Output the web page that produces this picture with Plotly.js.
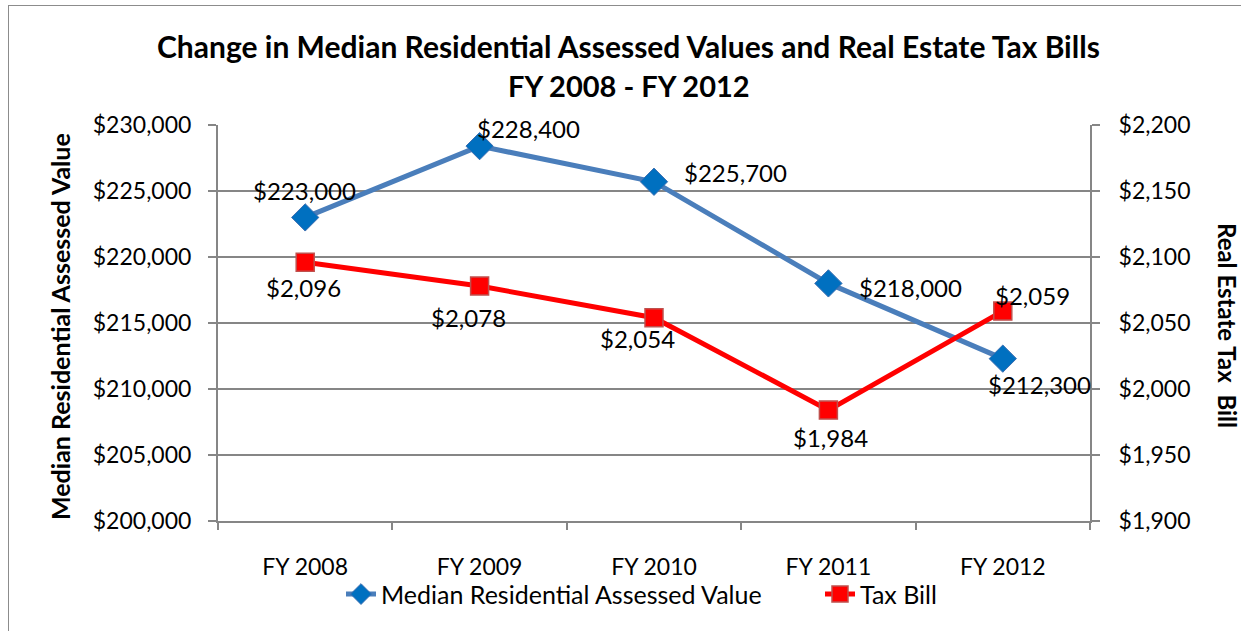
<!DOCTYPE html>
<html><head><meta charset="utf-8">
<script src="https://cdn.plot.ly/plotly-3.0.1.min.js"></script>
<style>
html,body{margin:0;padding:0;background:#fff;}
#wrap{position:relative;width:1241px;height:631px;}
#frame{position:absolute;left:8px;top:5px;width:1240px;height:630px;border:1px solid #8c8c8c;pointer-events:none;box-sizing:border-box;}
</style>
</head><body>
<div id="wrap"><div id="chart" style="width:1241px;height:631px;"></div><div id="frame"></div></div>
<script>
const categories = ["FY 2008","FY 2009","FY 2010","FY 2011","FY 2012"];
const assessedValues = [223000, 228400, 225700, 218000, 212300];
const taxBills = [2096, 2078, 2054, 1984, 2059];
const leftTicks = [200000,205000,210000,215000,220000,225000,230000];
const rightTicks = [1900,1950,2000,2050,2100,2150,2200];

const FONT = "Lato, 'Open Sans', sans-serif";
const fmt = v => "$" + v.toLocaleString("en-US");

// label placement offsets (pixels) relative to each point
const blueLabelShift = [[-1,-27],[49,-18],[81,-9],[82,4],[37,26]];
const redLabelShift  = [[-2,25],[-11,31],[-17,21],[2,27],[30,-16]];

const traces = [
  {
    x: categories, y: assessedValues, name: "Median Residential Assessed Value",
    type: "scatter", mode: "lines+markers",
    line: {color: "#4A7EBB", width: 5},
    marker: {symbol: "diamond", size: 21, color: "#0070C0", line: {color: "#3A6DB0", width: 1}},
    cliponaxis: false, yaxis: "y", legend: "legend"
  },
  {
    x: categories, y: taxBills, name: "Tax Bill",
    type: "scatter", mode: "lines+markers",
    line: {color: "#FF0000", width: 5},
    marker: {symbol: "square", size: 18, color: "#FF0000", line: {color: "#C0504D", width: 1.5}},
    cliponaxis: false, yaxis: "y2", legend: "legend2"
  }
];

const labelAnns = [];
categories.forEach((c, i) => {
  labelAnns.push({x: c, y: assessedValues[i], xref: "x", yref: "y", text: fmt(assessedValues[i]),
    showarrow: false, xanchor: "center", yanchor: "middle",
    xshift: blueLabelShift[i][0], yshift: -blueLabelShift[i][1],
    font: {family: FONT, size: 24, color: "#000"}});
  labelAnns.push({x: c, y: taxBills[i], xref: "x", yref: "y2", text: fmt(taxBills[i]),
    showarrow: false, xanchor: "center", yanchor: "middle",
    xshift: redLabelShift[i][0], yshift: -redLabelShift[i][1],
    font: {family: FONT, size: 24, color: "#000"}});
});

const legendFont = {family: FONT, size: 25, color: "#000"};
const layout = {
  width: 1241, height: 631,
  margin: {l: 218, r: 151, t: 125, b: 110, autoexpand: false},
  paper_bgcolor: "#fff", plot_bgcolor: "#fff",
  font: {family: FONT, size: 20, color: "#000"},
  showlegend: true,
  legend: {orientation: "h", xref: "container", x: 341/1241, xanchor: "left", y: -0.127, yanchor: "top",
           font: legendFont, bgcolor: "rgba(0,0,0,0)"},
  legend2: {orientation: "h", xref: "container", x: 820/1241, xanchor: "left", y: -0.127, yanchor: "top",
            font: legendFont, bgcolor: "rgba(0,0,0,0)"},
  xaxis: {
    type: "category", range: [-0.5, 4.5], showgrid: false,
    showline: true, linecolor: "#868686", linewidth: 2,
    ticks: "outside", tickson: "boundaries", ticklen: 7, tickcolor: "#868686", tickwidth: 2,
    ticklabelstandoff: 24, tickfont: {family: FONT, size: 23, color: "#000"}
  },
  yaxis: {
    range: [200000, 230000], tickvals: leftTicks, ticktext: leftTicks.map(fmt),
    showgrid: true, gridcolor: "#868686", gridwidth: 2,
    showline: true, linecolor: "#868686", linewidth: 2,
    ticks: "outside", ticklen: 8, tickcolor: "#868686", tickwidth: 2,
    ticklabelstandoff: 12, tickfont: {family: FONT, size: 23, color: "#000"}, zeroline: false
  },
  yaxis2: {
    overlaying: "y", side: "right", range: [1900, 2200], tickvals: rightTicks, ticktext: rightTicks.map(fmt),
    showgrid: false, showline: true, linecolor: "#868686", linewidth: 2,
    ticks: "outside", ticklen: 8, tickcolor: "#868686", tickwidth: 2,
    ticklabelstandoff: 14, tickfont: {family: FONT, size: 23, color: "#000"}, zeroline: false
  },
  annotations: [
    {text: "<b>Change in Median Residential Assessed Values and Real Estate Tax Bills</b>", xref: "paper", yref: "paper",
     x: 0.4713, y: 1, xanchor: "center", yanchor: "middle", yshift: 79, showarrow: false,
     font: {family: FONT, size: 30, color: "#000"}},
    {text: "<b>FY 2008 - FY 2012</b>", xref: "paper", yref: "paper",
     x: 0.4713, y: 1, xanchor: "center", yanchor: "middle", yshift: 40, showarrow: false,
     font: {family: FONT, size: 29, color: "#000"}},
    {text: "<b>Median Residential Assessed Value</b>", xref: "paper", yref: "paper",
     x: 0, y: 0.5, xanchor: "center", yanchor: "middle", xshift: -158, yshift: -4, showarrow: false, textangle: -90,
     font: {family: FONT, size: 25, color: "#000"}},
    {text: "<b>Real Estate Tax  Bill</b>", xref: "paper", yref: "paper",
     x: 1, y: 0.5, xanchor: "center", yanchor: "middle", xshift: 138, yshift: -2, showarrow: false, textangle: 90,
     font: {family: FONT, size: 24, color: "#000"}}
  ].concat(labelAnns)
};

Plotly.newPlot("chart", traces, layout, {displayModeBar: false, staticPlot: true});
</script>
</body></html>
